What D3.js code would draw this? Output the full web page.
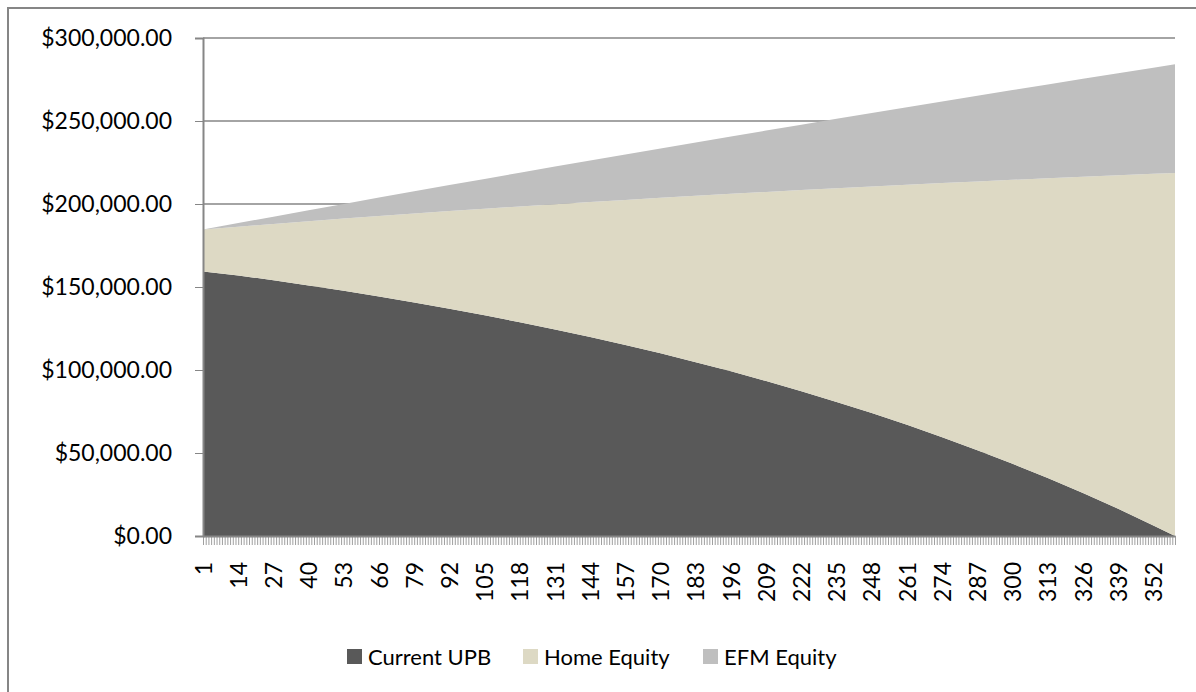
<!DOCTYPE html>
<html>
<head>
<meta charset="utf-8">
<script src="https://cdn.jsdelivr.net/npm/d3@7"></script>
<style>
  body { margin: 0; background: #fff; }
  svg { display: block; font-family: Lato, "Open Sans", sans-serif; }
  .axis path, .axis line { stroke: #868686; }
  .axis text { fill: #000; font-size: 23px; font-family: Lato, "Open Sans", sans-serif; }
  .grid line { stroke: #868686; stroke-width: 1.3; }
</style>
</head>
<body>
<svg width="1196" height="692"></svg>
<script>
// payment months shown on the category axis (1..360)
var months = d3.range(1, 361);
var labelEvery = 13;

// values read at the labelled months (+ last month)
var sampleMonths = [1, 14, 27, 40, 53, 66, 79, 92, 105, 118, 131, 144, 157, 170, 183,
                    196, 209, 222, 235, 248, 261, 274, 287, 300, 313, 326, 339, 352, 360];

var currentUPB = [159400, 156980, 154030, 150930, 147670, 144260, 140670, 136910, 132950, 128810,
                  124450, 119870, 115070, 110030, 104730, 99180, 93340, 87220, 80790, 74040,
                  66950, 59510, 51700, 43500, 34890, 25850, 16360, 6400, 0];

var homeEquity = [25250, 29380, 33990, 38710, 43540, 48500, 53580, 58810, 64180, 69710,
                  75420, 81310, 87400, 93690, 100200, 106940, 113930, 121190, 128710, 136530,
                  144660, 153110, 161900, 171070, 180610, 190570, 200950, 211780, 218700];

var efmEquity = [0, 2180, 4370, 6590, 8830, 11100, 13380, 15670, 17990, 20320,
                 22660, 25020, 27390, 29770, 32160, 34570, 36980, 39390, 41830, 44260,
                 46710, 49160, 51630, 54080, 56550, 59010, 61480, 63940, 65470];

var seriesNames = ["Current UPB", "Home Equity", "EFM Equity"];
var seriesColors = ["#595959", "#DDD9C4", "#BFBFBF"];
var yTicks = [0, 50000, 100000, 150000, 200000, 250000, 300000];

(function () {
  var svg = d3.select("svg");
  var plot = { left: 203, right: 1175, top: 38, bottom: 536 };

  // chart frame (only left/top edges are inside the picture)
  svg.append("rect")
      .attr("x", 8).attr("y", 8)
      .attr("width", 1300).attr("height", 800)
      .attr("fill", "none")
      .attr("stroke", "#868686")
      .attr("stroke-width", 2);

  var x = d3.scalePoint()
      .domain(months)
      .range([plot.left, plot.right]);

  var y = d3.scaleLinear()
      .domain([0, 300000])
      .range([plot.bottom, plot.top]);

  var rows = sampleMonths.map(function (m, i) {
    return { month: m, upb: currentUPB[i], home: homeEquity[i], efm: efmEquity[i] };
  });

  var stack = d3.stack().keys(["upb", "home", "efm"]);
  var layers = stack(rows);

  // gridlines
  svg.append("g")
      .attr("class", "grid")
    .selectAll("line")
    .data(yTicks.slice(1))
    .enter().append("line")
      .attr("x1", plot.left).attr("x2", plot.right)
      .attr("y1", function (d) { return y(d); })
      .attr("y2", function (d) { return y(d); });

  var area = d3.area()
      .x(function (d) { return x(d.data.month); })
      .y0(function (d) { return y(d[0]); })
      .y1(function (d) { return y(d[1]); });

  svg.append("g")
    .selectAll("path")
    .data(layers)
    .enter().append("path")
      .attr("fill", function (d, i) { return seriesColors[i]; })
      .attr("d", area);

  // y axis
  var yAxis = svg.append("g")
      .attr("class", "axis")
      .attr("transform", "translate(" + plot.left + ",0)")
      .call(d3.axisLeft(y)
          .tickValues(yTicks)
          .tickSize(8)
          .tickPadding(23)
          .tickFormat(function (d) { return "$" + d3.format(",.2f")(d); }));
  yAxis.select(".domain").attr("stroke-width", 2);

  // x axis
  var xAxis = svg.append("g")
      .attr("class", "axis")
      .attr("transform", "translate(0," + plot.bottom + ")")
      .call(d3.axisBottom(x)
          .tickValues(months)
          .tickSize(9)
          .tickSizeOuter(0)
          .tickFormat(function (d) { return (d - 1) % labelEvery === 0 ? d : ""; }));
  xAxis.select(".domain").attr("stroke-width", 2);
  xAxis.selectAll(".tick line").attr("stroke-width", 0.8);
  xAxis.selectAll(".tick text")
      .attr("transform", "rotate(-90)")
      .attr("text-anchor", "end")
      .attr("x", -26)
      .attr("y", 0)
      .attr("dy", "0.35em");

  // legend
  var legendX = [347, 523, 703];
  var legend = svg.append("g")
    .selectAll("g")
    .data(seriesNames)
    .enter().append("g")
      .attr("transform", function (d, i) { return "translate(" + legendX[i] + ",649)"; });

  legend.append("rect")
      .attr("width", 15).attr("height", 15)
      .attr("fill", function (d, i) { return seriesColors[i]; });

  legend.append("text")
      .attr("x", 21)
      .attr("y", 8)
      .attr("dy", "0.35em")
      .attr("font-size", 22)
      .text(function (d) { return d; });
})();
</script>
</body>
</html>
